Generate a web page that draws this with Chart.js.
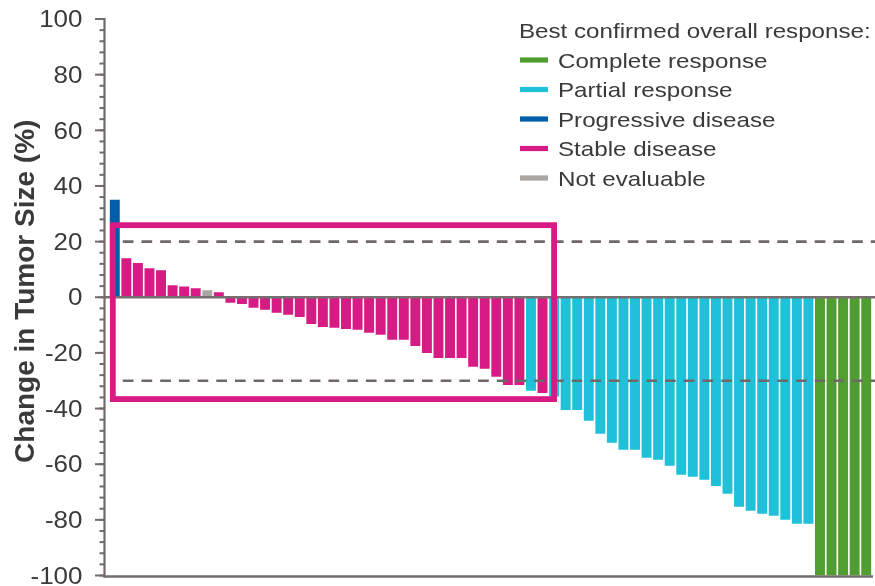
<!DOCTYPE html>
<html>
<head>
<meta charset="utf-8">
<script src="https://cdn.jsdelivr.net/npm/chart.js@4/dist/chart.umd.min.js"></script>
<style>
  html, body { margin: 0; padding: 0; background: #ffffff; }
  #wrap { width: 875px; height: 586px; position: relative; }
</style>
</head>
<body>
<div id="wrap"><canvas id="waterfall" width="875" height="586"></canvas></div>
<script>
// Response categories, in legend order
const responseCodes  = ['CR', 'PR', 'PD', 'SD', 'NE'];
const responseNames  = ['Complete response', 'Partial response', 'Progressive disease', 'Stable disease', 'Not evaluable'];
const responseColors = ['#519E30', '#1FC0DA', '#005DAA', '#D81A84', '#AAA6A2'];
const legendTitle = 'Best confirmed overall response:';

// Best confirmed response for each patient, sorted by change in tumor size
const patientResponse = [
  'PD',
  'SD', 'SD', 'SD', 'SD', 'SD', 'SD', 'SD', 'NE', 'SD',
  'SD', 'SD', 'SD', 'SD', 'SD', 'SD', 'SD', 'SD', 'SD', 'SD',
  'SD', 'SD', 'SD', 'SD', 'SD', 'SD', 'SD', 'SD', 'SD', 'SD',
  'SD', 'SD', 'SD', 'SD', 'SD', 'SD',
  'PR', 'SD', 'PR',
  'PR', 'PR', 'PR', 'PR', 'PR', 'PR', 'PR', 'PR', 'PR', 'PR', 'PR',
  'PR', 'PR', 'PR', 'PR', 'PR', 'PR', 'PR', 'PR', 'PR', 'PR', 'PR',
  'CR', 'CR', 'CR', 'CR', 'CR'
];

// Best change from baseline in tumor size (%)
const tumorChange = [
  35.0,
  14.0, 12.3, 10.4, 9.7, 4.3, 3.9, 3.2, 2.5, 1.8,
  -2.0, -2.4, -3.8, -4.5, -5.6, -6.3, -7.1, -9.6, -10.7, -11.0,
  -11.4, -11.7, -12.8, -13.5, -15.3, -15.3, -17.5, -20.0, -21.8, -21.8,
  -21.8, -25.0, -25.7, -28.6, -31.5, -31.5,
  -33.6, -34.4, -35.8,
  -40.5, -40.5, -44.4, -49.1, -52.3, -54.8, -54.8, -57.7, -58.4, -60.6, -63.8,
  -64.5, -65.6, -67.8, -70.6, -75.3, -76.7, -77.8, -78.5, -80.0, -81.4, -81.4,
  -100, -100, -100, -100, -100
];

// Y axis
const yTickValues = [100, 80, 60, 40, 20, 0, -20, -40, -60, -80, -100];
const yMinorStep = 4;
const yAxisTitle = 'Change in Tumor Size (%)';

// Response thresholds (progression +20 %, partial response -30 %)
const thresholds = [20, -30];

// Highlighted region: patient positions and change range
const highlightBox = { fromPatient: -0.17, toPatient: 38, upper: 25.9, lower: -36.6 };

const patientLabels = tumorChange.map((_, i) => String(i + 1));
const barColors = patientResponse.map(code => responseColors[responseCodes.indexOf(code)]);

const FONT = '"Liberation Sans", Arial, sans-serif';
const TEXT_COLOR = '#3A3A3A';
const AXIS_COLOR = '#716A6A';

function stretchedText(ctx, text, x, y, align, stretch) {
  ctx.save();
  ctx.translate(x, y);
  ctx.scale(stretch, 1);
  ctx.textAlign = align;
  ctx.textBaseline = 'alphabetic';
  ctx.fillText(text, 0, 0);
  ctx.restore();
}

const decorations = {
  id: 'decorations',
  afterDatasetsDraw(chart) {
    const { ctx, chartArea: area, scales: { x, y } } = chart;
    const axisX = area.left - 4.5;
    const step = x.getPixelForValue(1) - x.getPixelForValue(0);
    const catPx = v => x.getPixelForValue(0) + v * step;

    ctx.save();

    // dashed threshold lines
    ctx.strokeStyle = '#6E6868';
    ctx.lineWidth = 2.6;
    ctx.setLineDash([10.7, 8]);
    thresholds.forEach(v => {
      const py = y.getPixelForValue(v);
      ctx.beginPath();
      ctx.moveTo(catPx(0) + 8, py);
      ctx.lineTo(chart.width, py);
      ctx.stroke();
    });
    ctx.setLineDash([]);

    // zero line
    const y0 = y.getPixelForValue(0);
    ctx.strokeStyle = '#776F6F';
    ctx.lineWidth = 2.4;
    ctx.beginPath();
    ctx.moveTo(axisX, y0);
    ctx.lineTo(chart.width, y0);
    ctx.stroke();

    // bottom axis line
    const yBottom = y.getPixelForValue(y.min) + 1;
    ctx.strokeStyle = AXIS_COLOR;
    ctx.lineWidth = 2.3;
    ctx.beginPath();
    ctx.moveTo(axisX - 1, yBottom);
    ctx.lineTo(area.right + 1, yBottom);
    ctx.stroke();

    // vertical axis line
    ctx.lineWidth = 2.2;
    ctx.beginPath();
    ctx.moveTo(axisX, y.getPixelForValue(y.max) - 1);
    ctx.lineTo(axisX, yBottom + 1);
    ctx.stroke();

    // minor and major tick marks
    ctx.lineWidth = 2;
    for (let v = y.min; v <= y.max; v += yMinorStep) {
      const py = y.getPixelForValue(v);
      ctx.beginPath();
      ctx.moveTo(axisX - 5, py);
      ctx.lineTo(axisX, py);
      ctx.stroke();
    }
    yTickValues.forEach(v => {
      const py = y.getPixelForValue(v);
      ctx.beginPath();
      ctx.moveTo(axisX - 9.5, py);
      ctx.lineTo(axisX, py);
      ctx.stroke();
    });

    // tick labels
    ctx.fillStyle = TEXT_COLOR;
    ctx.font = '23px ' + FONT;
    yTickValues.forEach(v => {
      stretchedText(ctx, String(v), 82.5, y.getPixelForValue(v) + 8.2, 'right', 1.13);
    });

    // axis title
    ctx.save();
    ctx.font = 'bold 28px ' + FONT;
    ctx.translate(33.5, (area.top + area.bottom) / 2 - 6);
    ctx.rotate(-Math.PI / 2);
    ctx.textAlign = 'center';
    ctx.textBaseline = 'alphabetic';
    ctx.fillText(yAxisTitle, 0, 0);
    ctx.restore();

    // highlighted region
    const bx0 = catPx(highlightBox.fromPatient);
    const bx1 = catPx(highlightBox.toPatient);
    const by0 = y.getPixelForValue(highlightBox.upper);
    const by1 = y.getPixelForValue(highlightBox.lower);
    ctx.strokeStyle = '#D81A84';
    ctx.lineWidth = 5.8;
    ctx.strokeRect(bx0, by0, bx1 - bx0, by1 - by0);

    // legend
    ctx.fillStyle = TEXT_COLOR;
    ctx.font = '21px ' + FONT;
    stretchedText(ctx, legendTitle, 519, 38.3, 'left', 1.15);
    responseNames.forEach((name, i) => {
      const cy = 60 + i * 29.5;
      ctx.fillStyle = responseColors[i];
      ctx.fillRect(520, cy - 2.6, 28, 5.2);
      ctx.fillStyle = TEXT_COLOR;
      stretchedText(ctx, name, 558, cy + 7.5, 'left', 1.15);
    });

    ctx.restore();
  }
};

new Chart(document.getElementById('waterfall'), {
  type: 'bar',
  data: {
    labels: patientLabels,
    datasets: [{
      data: tumorChange,
      backgroundColor: barColors,
      borderWidth: 0,
      barPercentage: 0.86,
      categoryPercentage: 1
    }]
  },
  options: {
    responsive: false,
    animation: false,
    devicePixelRatio: 1,
    layout: { padding: { left: 109, right: 3, top: 19, bottom: 10.5 } },
    scales: {
      x: { display: false },
      y: { display: false, min: -100, max: 100 }
    },
    plugins: {
      legend: { display: false },
      tooltip: { enabled: false }
    }
  },
  plugins: [decorations]
});
</script>
</body>
</html>
